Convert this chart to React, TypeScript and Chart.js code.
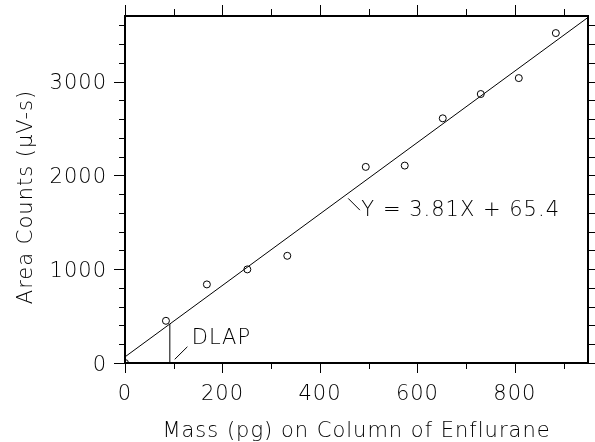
import React, { useEffect, useRef } from "react";
import { Chart, registerables } from "chart.js";

Chart.register(...registerables);

// ---- data ----
const massPg = [0, 84, 168, 251, 333, 494, 574, 652, 730, 808, 884];
const areaCounts = [0, 450, 838, 998, 1143, 2091, 2105, 2609, 2868, 3038, 3518];
const fitSlope = 3.81;
const fitIntercept = 65.4;
const fitRange = [0, 950];
const dlapMass = 92;

const xMajorTicks = [0, 200, 400, 600, 800];
const xMinorTicks = [100, 300, 500, 700, 900];
const yMajorTicks = [0, 1000, 2000, 3000];
const yMinorTicks = [200, 400, 600, 800, 1200, 1400, 1600, 1800, 2200, 2400, 2600, 2800, 3200, 3400, 3600];

const xTitle = "Mass (pg) on Column of Enflurane";
const yTitle = "Area Counts (µV-s)";
const equationLabel = "Y = 3.81X + 65.4";
const dlapLabel = "DLAP";
const equationAnchor = { x: 485, y: 1630 };
const equationLeader = [{ x: 458, y: 1755 }, { x: 482, y: 1630 }];
const dlapAnchor = { x: 137, y: 263 };
const dlapLeader = [{ x: 102, y: 39 }, { x: 128, y: 173 }];

const X_MIN = 0, X_MAX = 950, Y_MIN = 0, Y_MAX = 3700;
const FONT = '200 21px "DejaVu Sans"';

const framePlugin = {
  id: "frame",
  afterDraw(chart: any) {
    const ctx = chart.ctx as CanvasRenderingContext2D;
    const xs = chart.scales.x;
    const ys = chart.scales.y;
    const { left, right, top, bottom } = chart.chartArea;
    ctx.save();
    ctx.strokeStyle = "#000";
    ctx.fillStyle = "#000";
    // ticks
    ctx.lineWidth = 1;
    const tick = (x1: number, y1: number, x2: number, y2: number) => {
      ctx.beginPath();
      ctx.moveTo(x1, y1);
      ctx.lineTo(x2, y2);
      ctx.stroke();
    };
    xMajorTicks.forEach((v) => {
      const p = Math.round(xs.getPixelForValue(v)) + 0.5;
      tick(p, bottom, p, bottom + 10);
      tick(p, top, p, top - 11);
    });
    xMinorTicks.forEach((v) => {
      const p = Math.round(xs.getPixelForValue(v)) + 0.5;
      tick(p, bottom, p, bottom + 6);
      tick(p, top, p, top - 7);
    });
    yMajorTicks.forEach((v) => {
      const p = Math.round(ys.getPixelForValue(v)) + 0.5;
      tick(left, p, left - 11, p);
      tick(right, p, right + 9, p);
    });
    yMinorTicks.forEach((v) => {
      const p = Math.round(ys.getPixelForValue(v)) + 0.5;
      tick(left, p, left - 6, p);
      tick(right, p, right + 9, p);
    });
    // frame
    ctx.lineWidth = 2;
    ctx.strokeRect(left, top, right - left, bottom - top);

    // labels
    ctx.font = FONT;
    (ctx as any).letterSpacing = "1px";
    ctx.textBaseline = "alphabetic";
    ctx.textAlign = "center";
    xMajorTicks.forEach((v) => {
      ctx.fillText(String(v), xs.getPixelForValue(v), bottom + 37);
    });
    ctx.textAlign = "right";
    yMajorTicks.forEach((v) => {
      ctx.fillText(String(v), left - 18, ys.getPixelForValue(v) + 7.5);
    });
    // titles
    ctx.textAlign = "center";
    ctx.fillText(xTitle, (left + right) / 2, 437);
    ctx.save();
    ctx.translate(32, 197);
    ctx.rotate(-Math.PI / 2);
    ctx.fillText(yTitle, 0, 0);
    ctx.restore();
    // annotations
    ctx.textAlign = "left";
    ctx.textBaseline = "middle";
    ctx.fillText(equationLabel, xs.getPixelForValue(equationAnchor.x), ys.getPixelForValue(equationAnchor.y));
    ctx.fillText(dlapLabel, xs.getPixelForValue(dlapAnchor.x), ys.getPixelForValue(dlapAnchor.y));
    ctx.restore();
  },
};

export default function App() {
  const ref = useRef<HTMLCanvasElement | null>(null);
  useEffect(() => {
    if (!ref.current) return;
    const chart = new Chart(ref.current, {
      type: "scatter",
      data: {
        datasets: [
          {
            label: "data",
            data: massPg.map((x, i) => ({ x, y: areaCounts[i] })),
            pointRadius: 3.5,
            pointBorderWidth: 1,
            pointBorderColor: "#000",
            pointBackgroundColor: "rgba(0,0,0,0)",
            showLine: false,
            clip: 0,
          } as any,
          {
            label: "fit",
            data: fitRange.map((x) => ({ x, y: fitSlope * x + fitIntercept })),
            showLine: true,
            borderColor: "#000",
            borderWidth: 1,
            pointRadius: 0,
            clip: 0,
          } as any,
          {
            label: "dlap",
            data: [
              { x: dlapMass, y: 0 },
              { x: dlapMass, y: fitSlope * dlapMass + fitIntercept },
            ],
            showLine: true,
            borderColor: "#000",
            borderWidth: 1,
            pointRadius: 0,
          } as any,
          {
            label: "dlapLeader",
            data: dlapLeader,
            showLine: true,
            borderColor: "#000",
            borderWidth: 1,
            pointRadius: 0,
          } as any,
          {
            label: "eqLeader",
            data: equationLeader,
            showLine: true,
            borderColor: "#000",
            borderWidth: 1,
            pointRadius: 0,
          } as any,
        ],
      },
      options: {
        animation: false,
        responsive: false,
        maintainAspectRatio: false,
        layout: { padding: { left: 125, right: 7, top: 16, bottom: 79 } },
        plugins: { legend: { display: false }, tooltip: { enabled: false }, title: { display: false } },
        scales: {
          x: { type: "linear", min: X_MIN, max: X_MAX, display: false },
          y: { type: "linear", min: Y_MIN, max: Y_MAX, display: false },
        },
        events: [],
      },
      plugins: [framePlugin],
    });
    return () => chart.destroy();
  }, []);
  return (
    <div style={{ position: "fixed", left: 0, top: 0, width: 595, height: 442, background: "#fff" }}>
      <canvas ref={ref} width={595} height={442} style={{ width: 595, height: 442, display: "block" }} />
    </div>
  );
}
